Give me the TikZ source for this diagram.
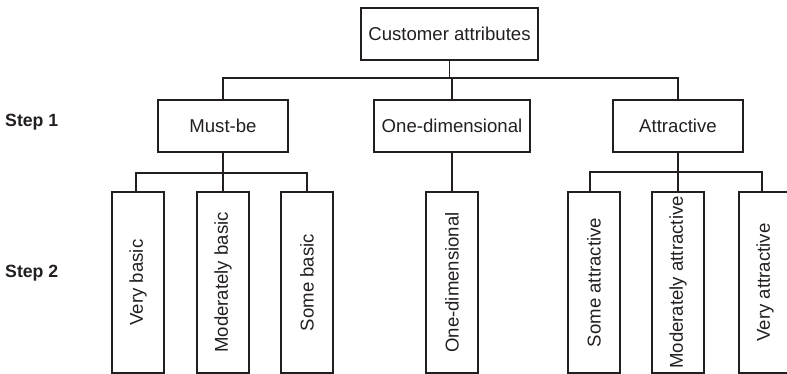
\documentclass[tikz,border=0pt]{standalone}
\usepackage{fontspec}
\usepackage{graphicx}
\setmainfont{Liberation Sans}
\definecolor{ink}{HTML}{231F20}
\begin{document}
\begin{tikzpicture}[x=1pt,y=-1pt,
  box/.style={draw=ink,line width=2pt,inner sep=0pt,text=ink,
    font=\fontsize{18.6}{22}\selectfont,minimum height=52pt},
  vbox/.style={box,minimum width=52pt,minimum height=181pt},
  steplabel/.style={anchor=base west,inner sep=0pt,text=ink,
    font=\fontsize{17.7}{21}\selectfont\bfseries},
  link/.style={draw=ink,line width=1.4pt}]
\useasboundingbox (0,0) rectangle (787,374);

% top level
\node[box,minimum width=177pt] (root) at (449.5,34) {Customer attributes};

% step 1
\node[box,minimum width=130pt] (mustbe) at (223,126) {Must-be};
\node[box,minimum width=156pt] (onedim) at (452,126) {One-dimensional};
\node[box,minimum width=130pt] (attr)   at (678,126) {Attractive};

% step 2
\node[vbox] (vbasic) at (138,282.5) {\rotatebox{90}{Very basic}};
\node[vbox] (mbasic) at (223,282.5) {\rotatebox{90}{Moderately basic}};
\node[vbox] (sbasic) at (307,282.5) {\rotatebox{90}{Some basic}};
\node[vbox] (onedimb) at (452,282.5) {\rotatebox{90}{One-dimensional}};
\node[vbox] (sattr) at (594,282.5) {\rotatebox{90}{Some attractive}};
\node[vbox] (mattr) at (678,282.5) {\rotatebox{90}{Moderately attractive}};
\node[vbox] (vattr) at (765,282.5) {\rotatebox{90}{Very attractive}};

% step labels
\node[steplabel] (step1) at (5,127) {Step 1};
\node[steplabel] (step2) at (5,277) {Step 2};

% bus coordinates (yshift is in page direction, so negative moves down)
\coordinate (bus0) at ([yshift=-17pt]root.south);
\coordinate (bus1) at ([yshift=-20pt]mustbe.south);
\coordinate (bus3) at ([yshift=-19pt]attr.south);

% connectors: root to step 1
\draw[link] (root.south) -- (bus0);
\draw[link] (bus0) -| (mustbe.north);
\draw[link] (bus0) -| (attr.north);
\draw[link] (onedim.north) -- (onedim.north |- bus0);

% connectors: step 1 to step 2
\draw[link] (mustbe.south) -- (bus1);
\draw[link] (bus1) -| ([xshift=-2pt]vbasic.north);
\draw[link] (bus1) -- (mbasic.north);
\draw[link] (bus1) -| (sbasic.north);
\draw[link] (onedim.south) -- (onedimb.north);
\draw[link] (attr.south) -- (bus3);
\draw[link] (bus3) -| ([xshift=-4pt]sattr.north);
\draw[link] (bus3) -- (mattr.north);
\draw[link] (bus3) -| ([xshift=-3pt]vattr.north);
\end{tikzpicture}
\end{document}
